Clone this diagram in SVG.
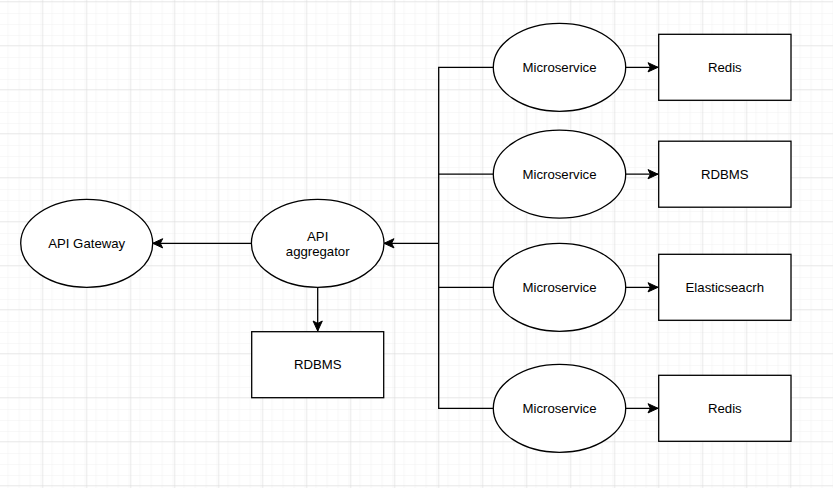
<svg xmlns="http://www.w3.org/2000/svg" width="833" height="488" viewBox="0 0 833 488">
<style>
.shape{fill:#ffffff;stroke:#000000;stroke-width:1.3}
.edge{fill:none;stroke:#000000;stroke-width:1.3}
.arr{marker-end:url(#arrow)}
text{font-family:"Liberation Sans",Arial,Helvetica,sans-serif;font-size:13.2px;fill:#000000;text-anchor:middle}
</style>
<defs>
<pattern id="minor" x="-1.7" y="1" width="11" height="11" patternUnits="userSpaceOnUse">
<path d="M0,0 H11 M0,0 V11" fill="none" stroke="#f1f1f1" stroke-width="1.2"/>
</pattern>
<pattern id="major" x="-1.7" y="1" width="44" height="44" patternUnits="userSpaceOnUse">
<rect width="44" height="44" fill="url(#minor)"/>
<path d="M0,0 H44 M0,0 V44" fill="none" stroke="#dddddd" stroke-width="1.2"/>
</pattern>
<marker id="arrow" markerUnits="userSpaceOnUse" markerWidth="14" markerHeight="12" viewBox="-11 -6 12 12" refX="0" refY="0" orient="auto">
<path d="M0,0 L-10,-4.6 L-7.6,0 L-10,4.6 Z" fill="#000000" stroke="#000000" stroke-width="1"/>
</marker>
</defs>
<rect width="833" height="488" fill="#ffffff"/>
<rect width="833" height="488" fill="url(#major)"/>

<g id="connectors">
<path class="edge arr" d="M251.3,243.3 H152.7"/>
<path class="edge arr" d="M317.7,287.3 V331"/>
<path class="edge" d="M493.3,67.3 H438.7 V408.3 H493.3"/>
<path class="edge" d="M493.3,174.2 H438.7"/>
<path class="edge" d="M493.3,287.3 H438.7"/>
<path class="edge arr" d="M438.7,243.3 H384"/>
<path class="edge arr" d="M625.7,67.3 H658"/>
<path class="edge arr" d="M625.7,174.2 H658"/>
<path class="edge arr" d="M625.7,287.3 H658"/>
<path class="edge arr" d="M625.7,408.3 H658"/>
</g>

<g id="api-gateway">
<ellipse class="shape" cx="86.7" cy="243.3" rx="66" ry="44"/>
<text x="86.7" y="248">API Gateway</text>
</g>
<g id="api-aggregator">
<ellipse class="shape" cx="317.7" cy="243.3" rx="66.3" ry="44"/>
<text x="317.7" y="240.5">API</text>
<text x="317.7" y="255.5">aggregator</text>
</g>
<g id="rdbms-aggregator">
<rect class="shape" x="251.7" y="331.7" width="132" height="66"/>
<text x="317.7" y="369.3">RDBMS</text>
</g>

<g id="microservice-1">
<ellipse class="shape" cx="559.5" cy="67.3" rx="66.2" ry="44"/>
<text x="559.5" y="72">Microservice</text>
</g>
<g id="redis-1">
<rect class="shape" x="658.7" y="34.3" width="132.3" height="66"/>
<text x="724.8" y="72">Redis</text>
</g>

<g id="microservice-2">
<ellipse class="shape" cx="559.5" cy="174.2" rx="66.2" ry="44"/>
<text x="559.5" y="178.9">Microservice</text>
</g>
<g id="rdbms-2">
<rect class="shape" x="658.7" y="141.2" width="132.3" height="66"/>
<text x="724.8" y="178.9">RDBMS</text>
</g>

<g id="microservice-3">
<ellipse class="shape" cx="559.5" cy="287.3" rx="66.2" ry="44"/>
<text x="559.5" y="292">Microservice</text>
</g>
<g id="elasticsearch-3">
<rect class="shape" x="658.7" y="254.3" width="132.3" height="66"/>
<text x="724.8" y="292">Elasticseacrh</text>
</g>

<g id="microservice-4">
<ellipse class="shape" cx="559.5" cy="408.3" rx="66.2" ry="44"/>
<text x="559.5" y="413">Microservice</text>
</g>
<g id="redis-4">
<rect class="shape" x="658.7" y="375.3" width="132.3" height="66"/>
<text x="724.8" y="413">Redis</text>
</g>
</svg>
